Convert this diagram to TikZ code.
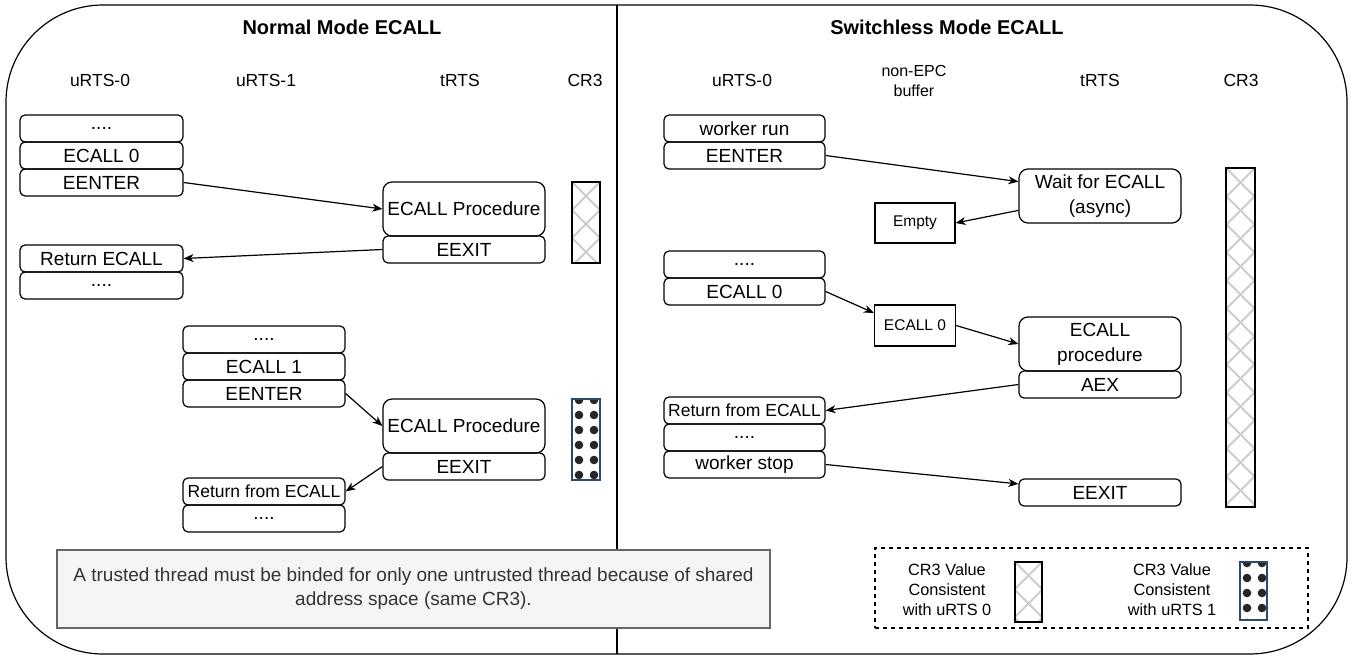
\documentclass[tikz,border=0pt]{standalone}
\usepackage{fontspec}
\setmainfont{Liberation Sans}
\usepackage{tikz}
\usetikzlibrary{arrows.meta}
\tikzset{every picture/.style={line width=1.2pt}}
\definecolor{notefill}{HTML}{F5F5F5}
\definecolor{noteline}{HTML}{666666}
\definecolor{notetext}{HTML}{333333}
\definecolor{hatchgray}{HTML}{CDCDCD}
\definecolor{dotline}{HTML}{2E4A68}
\tikzset{
  cell/.style={draw, rounded corners=5pt, inner sep=0pt, minimum width=163pt, minimum height=27pt, font=\fontsize{19}{23}\selectfont},
  smallcell/.style={cell, font=\fontsize{17.5}{21}\selectfont},
  bigcell/.style={cell, rounded corners=9pt, minimum width=162pt, minimum height=54pt, align=center, font=\fontsize{19}{25}\selectfont},
  bufcell/.style={draw, inner sep=0pt, font=\fontsize{15.5}{19}\selectfont},
  head/.style={align=center, font=\fontsize{17.5}{20}\selectfont},
  ttl/.style={font=\fontsize{20}{24}\selectfont\bfseries},
  legtext/.style={align=center, font=\fontsize{16.3}{20}\selectfont},
  link/.style={-{Stealth[length=10pt,width=8pt,inset=3pt]}},
  crossbar/.style={draw, fill=white, inner sep=0pt, minimum width=28pt,
    path picture={
      \foreach \k in {-1,...,13}{
        \draw[hatchgray, line width=2pt] ([yshift=-\k*28pt]path picture bounding box.north west) -- ++(60pt,-60pt);
        \draw[hatchgray, line width=2pt] ([yshift=-\k*28pt]path picture bounding box.north east) -- ++(-60pt,-60pt);
      }
    }},
  dotbar/.style={draw=dotline, fill=white, inner sep=0pt, minimum width=28pt,
    path picture={
      \foreach \i in {0,...,5}{
        \fill[black!85] ([xshift=7pt,yshift=-1pt-\i*15pt]path picture bounding box.north west) circle (4.3pt);
        \fill[black!85] ([xshift=22pt,yshift=-1pt-\i*15pt]path picture bounding box.north west) circle (4.3pt);
      }
    }},
}

\begin{document}
\begin{tikzpicture}[x=1pt,y=-1pt]
\useasboundingbox (0,0) rectangle (1351,655);
\draw[rounded corners=97pt] (6,5) rectangle (1347,654);
\draw (617,5) -- (617,654);
%
\node[ttl] (ttl0) at (342,27) {Normal Mode ECALL};
\node[ttl] (ttl1) at (947,27) {Switchless Mode ECALL};
%
\node[head] (hd0) at (100,80) {uRTS-0};
\node[head] (hd1) at (266,80) {uRTS-1};
\node[head] (hd2) at (460,80) {tRTS};
\node[head] (hd3) at (585,80) {CR3};
\node[head] (hd4) at (742,80) {uRTS-0};
\node[head, font=\fontsize{16}{19.5}\selectfont] (hd5) at (914,81) {non-EPC\\buffer};
\node[head] (hd6) at (1100,80) {tRTS};
\node[head] (hd7) at (1241,80) {CR3};
%
\node[cell] (a1) at (101.5,128.5) {....};
\node[cell] (a2) at (101.5,155.5) {ECALL 0};
\node[cell] (a3) at (101.5,182.5) {EENTER};
\node[cell] (a4) at (101.5,258.5) {Return ECALL};
\node[cell] (a5) at (101.5,285.5) {....};
\node[bigcell] (p1) at (464,209) {ECALL Procedure};
\node[cell, minimum width=162pt] (x1) at (464,249.5) {EEXIT};
\node[crossbar, minimum height=81pt] (h1) at (586,222.5) {};
%
\node[cell, minimum width=162pt] (b1) at (264,339.5) {....};
\node[cell, minimum width=162pt] (b2) at (264,366.5) {ECALL 1};
\node[cell, minimum width=162pt] (b3) at (264,393.5) {EENTER};
\node[bigcell] (p2) at (464,426) {ECALL Procedure};
\node[cell, minimum width=162pt] (x2) at (464,466.5) {EEXIT};
\node[smallcell, minimum width=162pt] (b4) at (264,491.5) {Return from ECALL};
\node[cell, minimum width=162pt] (b5) at (264,518.5) {....};
\node[dotbar, minimum height=81pt] (d1) at (586,439.5) {};
%
\draw[link] (a3.east) -- (p1.west);
\draw[link] (x1.west) -- (a4.east);
\draw[link] (b3.east) -- (p2.west);
\draw[link] (x2.west) -- (b4.east);
%
\node[cell, minimum width=161pt] (c1) at (744.5,128.5) {worker run};
\node[cell, minimum width=161pt] (c2) at (744.5,155.5) {EENTER};
\node[bigcell] (w1) at (1100,196) {Wait for ECALL\\(async)};
\node[bufcell, minimum width=80pt, minimum height=40pt] (e1) at (915,223) {Empty};
\node[cell, minimum width=161pt] (c3) at (744.5,264.5) {....};
\node[cell, minimum width=161pt] (c4) at (744.5,291.5) {ECALL 0};
\node[bufcell, minimum width=81pt, minimum height=41pt] (e2) at (915,325.5) {ECALL 0};
\node[bigcell] (w2) at (1100,344) {ECALL\\procedure};
\node[cell, minimum width=162pt] (w3) at (1100,384.5) {AEX};
\node[smallcell, minimum width=161pt] (c5) at (744.5,410.5) {Return from ECALL};
\node[cell, minimum width=161pt] (c6) at (744.5,437.5) {....};
\node[cell, minimum width=161pt] (c7) at (744.5,464.5) {worker stop};
\node[cell, minimum width=162pt] (w4) at (1100,492.5) {EEXIT};
\node[crossbar, minimum width=29pt, minimum height=339pt] (h2) at (1240.5,337.5) {};
%
\draw[link] (c2.east) -- (w1.170);
\draw[link] (w1.190) -- (e1.east);
\draw[link] (c4.east) -- (e2.163);
\draw[link] (e2.east) -- (w2.west);
\draw[link] (w3.west) -- (c5.east);
\draw[link] (c7.east) -- (w4.174);
%
\node[draw=noteline, fill=notefill, text=notetext, align=center, minimum width=713pt, minimum height=78pt,
  font=\fontsize{19}{24}\selectfont] (note) at (413.5,589)
  {A trusted thread must be binded for only one untrusted thread because of shared\\address space (same CR3).};
%
\node[draw, dash pattern=on 4pt off 4pt, minimum width=433pt, minimum height=80pt] (leg) at (1091.5,588) {};
\node[legtext] (lt0) at (947,590) {CR3 Value\\Consistent\\with uRTS 0};
\node[crossbar, minimum width=27pt, minimum height=60pt] (lh0) at (1028.5,592) {};
\node[legtext] (lt1) at (1172,590) {CR3 Value\\Consistent\\with uRTS 1};
\node[dotbar, minimum width=27pt, minimum height=58pt] (ld1) at (1253.5,591) {};
\end{tikzpicture}
\end{document}
